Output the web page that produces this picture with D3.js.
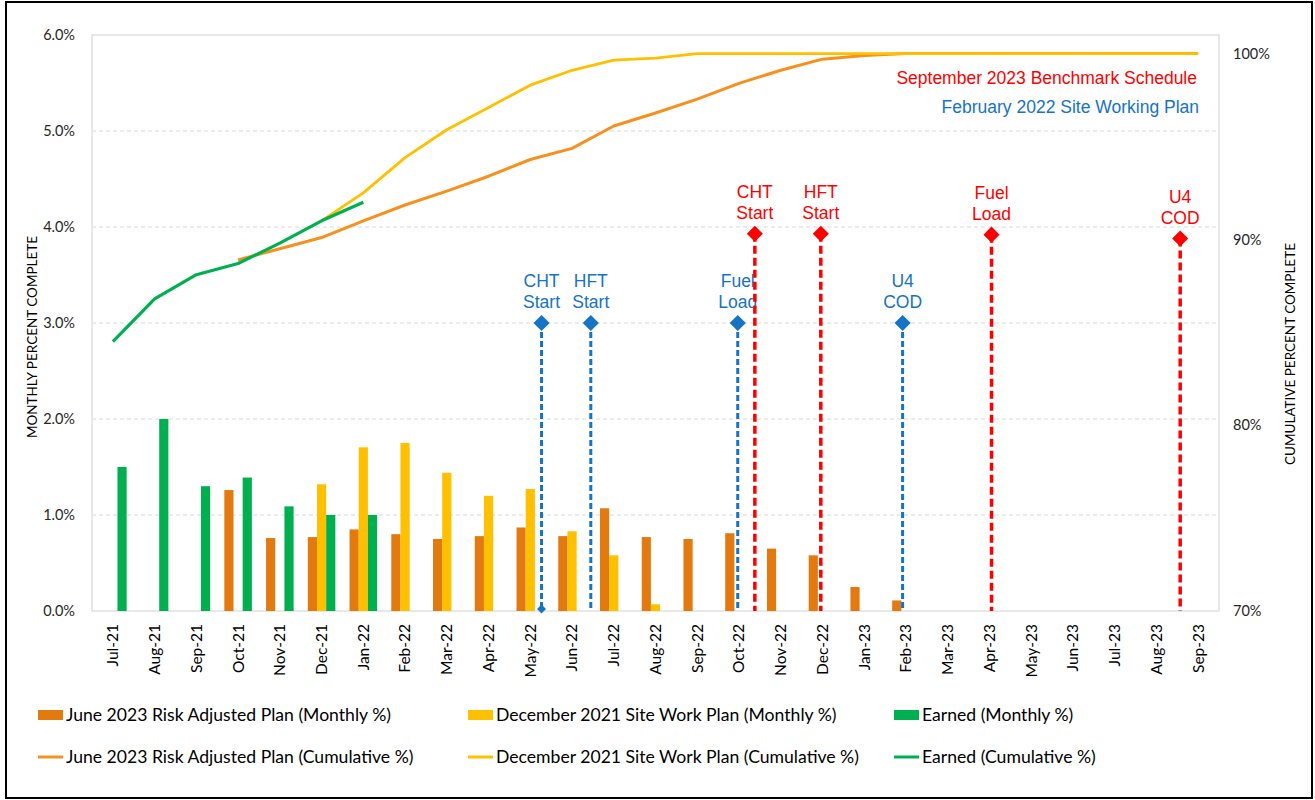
<!DOCTYPE html>
<html><head><meta charset="utf-8">
<script src="https://cdn.jsdelivr.net/npm/d3@7"></script>
<style>html,body{margin:0;padding:0;background:#fff;}svg{display:block;}</style>
</head><body>
<svg id="chart" width="1315" height="800"></svg>
<script>
const months = ["Jul-21","Aug-21","Sep-21","Oct-21","Nov-21","Dec-21","Jan-22","Feb-22","Mar-22","Apr-22","May-22","Jun-22","Jul-22","Aug-22","Sep-22","Oct-22","Nov-22","Dec-22","Jan-23","Feb-23","Mar-23","Apr-23","May-23","Jun-23","Jul-23","Aug-23","Sep-23"];
// Monthly % (left axis)
const riskMonthly = [null,null,null,1.26,0.76,0.77,0.85,0.80,0.75,0.78,0.87,0.78,1.07,0.77,0.75,0.81,0.65,0.58,0.25,0.11,null,null,null,null,null,null,null];
const siteMonthly = [null,null,null,null,null,1.32,1.705,1.75,1.44,1.20,1.27,0.83,0.58,0.07,null,null,null,null,null,null,null,null,null,null,null,null,null];
const earnedMonthly = [1.50,2.00,1.30,1.39,1.09,1.00,1.00,null,null,null,null,null,null,null,null,null,null,null,null,null,null,null,null,null,null,null,null];
// Cumulative % (right axis)
const riskCum = [null,null,null,88.9,89.5,90.1,91.0,91.85,92.6,93.4,94.3,94.9,96.1,96.8,97.55,98.4,99.1,99.7,99.9,100,100,100,100,100,100,100,100];
const siteCum = [null,null,null,null,null,91.0,92.5,94.4,95.9,97.1,98.3,99.1,99.65,99.75,100,100,100,100,100,100,100,100,100,100,100,100,100];
const earnedCum = [84.5,86.8,88.1,88.7,89.8,91.0,92.0,null,null,null,null,null,null,null,null,null,null,null,null,null,null,null,null,null,null,null,null];
// Milestones: position in months from Jul-21, value on left axis
const siteMilestoneLabels = [["CHT","Start"],["HFT","Start"],["Fuel","Load"],["U4","COD"]];
const siteMilestonePos = [10.27,11.45,14.97,18.92];
const siteMilestoneVal = [3.0,3.0,3.0,3.0];
const benchMilestoneLabels = [["CHT","Start"],["HFT","Start"],["Fuel","Load"],["U4","COD"]];
const benchMilestonePos = [15.38,16.96,21.05,25.57];
const benchMilestoneVal = [3.93,3.93,3.92,3.88];
const leftTicks = [0,1,2,3,4,5,6];
const rightTicks = [70,80,90,100];
const seriesNames = ["June 2023 Risk Adjusted Plan (Monthly %)","December 2021 Site Work Plan (Monthly %)","Earned (Monthly %)","June 2023 Risk Adjusted Plan (Cumulative %)","December 2021 Site Work Plan (Cumulative %)","Earned (Cumulative %)"];
const scheduleTitles = ["September 2023 Benchmark Schedule","February 2022 Site Working Plan"];

const C = {orangeBar:"#E37A10", orangeLine:"#F7901E", yellow:"#FFC000", green:"#00B050", red:"#FF0000", blue:"#1673C6", grid:"#D9D9D9", text:"#262626"};

const svg = d3.select("#chart");
const L = 92, R = 1219, T = 35, B = 611;

// border
svg.append("rect").attr("x",6).attr("y",2).attr("width",1306).attr("height",796)
  .attr("fill","#fff").attr("stroke","#000").attr("stroke-width",2);

const x0 = d3.scaleBand().domain(months).range([L,R]).paddingInner(0.34).paddingOuter(0.17);
const keys = ["risk","site","earned"];
const x1 = d3.scaleBand().domain(keys).range([0,x0.bandwidth()]);
const xc = d3.scaleLinear().domain([0,months.length-1])
  .range([x0(months[0])+x0.bandwidth()/2, x0(months[months.length-1])+x0.bandwidth()/2]);
const yL = d3.scaleLinear().domain([0,6]).range([B,T]);
const yR = d3.scaleLinear().domain([70,101]).range([B,T]);

// gridlines
svg.append("g").selectAll("line").data(leftTicks.filter(t=>t>0&&t<6)).join("line")
  .attr("x1",L).attr("x2",R).attr("y1",d=>yL(d)).attr("y2",d=>yL(d))
  .attr("stroke",C.grid).attr("stroke-width",1).attr("stroke-dasharray","4,3");
svg.append("rect").attr("x",L).attr("y",T).attr("width",R-L).attr("height",B-T)
  .attr("fill","none").attr("stroke",C.grid).attr("stroke-width",1.2);

// left axis labels
const axL = d3.axisLeft(yL).tickValues(leftTicks).tickFormat(d=>d3.format(".1f")(d)+"%").tickSize(0).tickPadding(17);
const gL = svg.append("g").attr("transform",`translate(${L},0)`).call(axL);
gL.select(".domain").remove();
gL.selectAll("text").attr("font-family","Lato").attr("font-size",14.5).attr("fill",C.text);

const axR = d3.axisRight(yR).tickValues(rightTicks).tickFormat(d=>d+"%").tickSize(0).tickPadding(14);
const gR = svg.append("g").attr("transform",`translate(${R},0)`).call(axR);
gR.select(".domain").remove();
gR.selectAll("text").attr("font-family","Lato").attr("font-size",14.5).attr("fill",C.text);

// x axis labels
const axB = d3.axisBottom(x0).tickSize(0).tickPadding(0);
const gB = svg.append("g").attr("transform",`translate(0,${B})`).call(axB);
gB.select(".domain").remove();
gB.selectAll("text").attr("font-family","Lato").attr("font-size",15.5).attr("fill","#000")
  .attr("transform","rotate(-90)").attr("text-anchor","end").attr("dy","0.35em").attr("x",-13).attr("y",0);

// axis titles
svg.append("text").attr("transform","translate(37,337) rotate(-90)").attr("text-anchor","middle")
  .attr("font-family","Lato").attr("font-size",13.5).attr("fill","#000").text("MONTHLY PERCENT COMPLETE");
svg.append("text").attr("transform","translate(1295,354) rotate(-90)").attr("text-anchor","middle")
  .attr("font-family","Lato").attr("font-size",13.5).attr("fill","#000").text("CUMULATIVE PERCENT COMPLETE");

// bars
const barData = [];
months.forEach((m,i)=>{
  [["risk",riskMonthly[i],C.orangeBar],["site",siteMonthly[i],C.yellow],["earned",earnedMonthly[i],C.green]]
    .forEach(([k,v,c])=>{ if(v!=null) barData.push({m,k,v,c}); });
});
svg.append("g").selectAll("rect").data(barData).join("rect")
  .attr("x",d=>x0(d.m)+x1(d.k)).attr("width",x1.bandwidth())
  .attr("y",d=>yL(d.v)).attr("height",d=>B-yL(d.v)).attr("fill",d=>d.c);

// lines
const line = d3.line().defined(d=>d.v!=null).x(d=>xc(d.i)).y(d=>yR(d.v));
[[riskCum,C.orangeLine,3],[siteCum,C.yellow,2.8],[earnedCum,C.green,3.2]].forEach(([arr,c,w])=>{
  svg.append("path").datum(arr.map((v,i)=>({i,v}))).attr("d",line)
    .attr("fill","none").attr("stroke",c).attr("stroke-width",w).attr("stroke-linejoin","round");
});

// milestones
function milestones(pos,val,labels,color,dash,width){
  const g = svg.append("g");
  const data = pos.map((p,i)=>({p,v:val[i],lab:labels[i]}));
  g.selectAll("line").data(data).join("line")
    .attr("x1",d=>xc(d.p)).attr("x2",d=>xc(d.p)).attr("y1",d=>yL(d.v)).attr("y2",B)
    .attr("stroke",color).attr("stroke-width",width).attr("stroke-dasharray",dash);
  g.selectAll("path").data(data).join("path")
    .attr("transform",d=>`translate(${xc(d.p)},${yL(d.v)}) rotate(45)`)
    .attr("d",d3.symbol().type(d3.symbolSquare).size(130)).attr("fill",color);
  const t = g.selectAll("text").data(data).join("text")
    .attr("text-anchor","middle").attr("font-family","Liberation Sans, Arial").attr("font-size",17.5).attr("fill",color);
  t.append("tspan").attr("x",d=>xc(d.p)).attr("y",d=>yL(d.v)-36).text(d=>d.lab[0]);
  t.append("tspan").attr("x",d=>xc(d.p)).attr("y",d=>yL(d.v)-15).text(d=>d.lab[1]);
  return {g,data};
}
const blue = milestones(siteMilestonePos,siteMilestoneVal,siteMilestoneLabels,C.blue,"6,3",3);
// small marker at the base of the first site milestone
svg.append("path").attr("transform",`translate(${xc(siteMilestonePos[0])},${yL(0)-2}) rotate(45)`)
  .attr("d",d3.symbol().type(d3.symbolSquare).size(40)).attr("fill",C.blue);
const red = milestones(benchMilestonePos,benchMilestoneVal,benchMilestoneLabels,C.red,"8,4",3.5);

// schedule titles
svg.append("text").attr("x",1197).attr("y",84).attr("text-anchor","end").attr("font-family","Liberation Sans, Arial")
  .attr("font-size",17.5).attr("fill",C.red).text(scheduleTitles[0]);
svg.append("text").attr("x",1199).attr("y",113).attr("text-anchor","end").attr("font-family","Liberation Sans, Arial")
  .attr("font-size",17.5).attr("fill",C.blue).text(scheduleTitles[1]);

// legend
const legCols = [38,468,894], legRows = [715,757];
const legColors = [C.orangeBar,C.yellow,C.green,C.orangeLine,C.yellow,C.green];
const lg = svg.append("g");
seriesNames.forEach((name,i)=>{
  const col = i%3, row = Math.floor(i/3);
  const x = legCols[col], y = legRows[row];
  if(row===0){
    lg.append("rect").attr("x",x).attr("y",y-5).attr("width",25).attr("height",10).attr("fill",legColors[i]);
  } else {
    lg.append("line").attr("x1",x).attr("x2",x+25).attr("y1",y).attr("y2",y).attr("stroke",legColors[i]).attr("stroke-width",3);
  }
  lg.append("text").attr("x",x+28).attr("y",y).attr("dy","0.35em").attr("font-family","Lato").attr("font-size",17.6)
    .attr("fill","#000").text(name);
});
</script>
</body></html>
